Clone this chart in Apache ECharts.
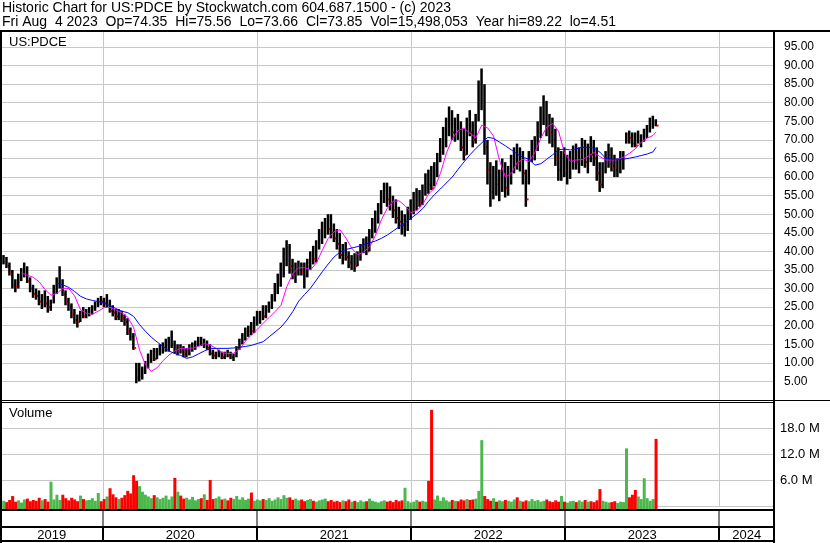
<!DOCTYPE html>
<html><head><meta charset="utf-8">
<script src="https://cdn.jsdelivr.net/npm/echarts@6/dist/echarts.min.js"></script>
<style>html,body{margin:0;padding:0;background:#fff}#c{width:830px;height:543px}</style>
</head><body><div id="c"></div>
<script>
// ---- DATA (weekly bars, week ending Friday, first week ends 2019-05-10) ----
const firstWeekEnd = '2019-05-10';
const weekHigh = [
 39,38.5,37,35,32.5,34,35.5,37,36,33,
 31,30,29.5,28.5,29.5,28,27,31,33,36,
 32.5,29.5,27.5,26,24.5,23,24,25,24.5,25,
 25.5,26.5,27.5,28,27.5,28.5,27,25.5,24.5,24.5,
 24,23,22,19.5,18,10,10,9,10.5,12.5,
 13.5,14,14,15,15.5,16.5,17,18.7,16,15,
 15,14.5,14,15,15.5,16,17,17,16.5,16,
 15,13.5,13,13.5,13,13,13.5,13,12.5,14.5,
 16.5,18,19.5,20,21,22.5,24,24,25.5,25.5,
 26.5,28.5,31.5,34,37,41,43,42,38,37,
 37.5,37,37,38,40,41.5,43,46,48,49,
 50,50,47.5,46,45,42,42.5,40,39,39.5,
 40,42,43.5,44,46,49,51,53,56.5,58.5,
 58.5,57.5,55,54,52,51,50,52,54,56,
 57,56.5,58,61,62,63,64,66.5,70.5,73.5,
 76,79,78,76,77,75,73,76,78,75,
 77,86,89.22,85,70,64,63,64.5,62,65,
 64,63,66,68,69,68,67,62,67,70,
 71,75,79,82,80.5,77,76,73,68,67,
 68,66,67,68.5,69,68,70.5,70,69,71,
 70,68,64,64,67,69,68,66,65,67,
 67,72,72.5,72,72,72.5,71.5,73,74,76,
 76.5,75.56];
const weekLow = [
 36.5,35.5,33.5,30,29,30,32,33,31.5,29,
 27.5,27,25.5,24.5,25,23.5,24,26,28.5,30,
 28,25.5,24,22,20.5,19.5,21,22,22,22.5,
 23,24,25,25.5,25,25,23.5,22.5,21.5,21.5,
 21,20,17.5,16,13.5,4.51,5,5.5,7,8.5,
 10,10.5,11,12,12.5,13,13,14,12.5,12,
 12.5,11.5,11.5,12,13,13.5,14.5,14.5,14,13.5,
 12,11,11,11.5,11,11,11.5,11,10.5,11.5,
 13.5,15,16,17,17.5,18,20,20.5,21.5,22,
 23.5,24.5,26.5,28.5,30.5,33,36,34,32.5,31.5,
 33.5,33.5,30,33,35,36.5,37,40.5,42,43.5,
 44.5,43.5,42.5,40.5,38,36.5,37.5,35.5,35,34.5,
 36,37.5,39.5,39,40,43.5,45,47.5,50,53,
 52,51,49,47.5,46,44.5,44,45.5,48.5,50,
 51,52,52.5,55,55.5,56.5,57.5,60,64,66,
 68,71,70,69.5,70,67,64.5,66,71,68,
 69,75,78,66,58,52,54,55,53.5,56,
 54.5,55,58,61,62,61.5,58,52,58,64,
 64.5,67,70.5,74,71,69,68,63,59,59,
 60,58,59.5,62,62,61,63,62.5,61,64,
 63,59,56,57,61,62.5,61.5,60,60,61,
 62,69,69,68,68,69,68,69.5,70.5,72,
 73,73.66];
const weekClose = [
 37.5,36,34.5,31,30.5,33,34.5,35,32,30,
 28.5,28,26.5,27,26,25,26,30,31.5,32,
 28.5,26.5,25,23,21.5,21,23.5,22.5,23.5,24,
 24.5,26,27,26.5,26,27,24,23.5,22.5,23.5,
 22,21,18.5,17,14,6,7,8,9.5,11,
 12,11,13,13.5,14,14.5,15,15,13.5,14,
 13.5,12.5,13,14,14.5,15.5,16,15,15.5,14,
 12.5,12,12,12.5,11.5,12.5,12,11.5,12,14,
 16,17.5,18,19,18.5,21.5,22,23.5,22.5,25,
 25.5,27.5,30,32,35,38,40,36,34,35.5,
 36,34.5,33.5,37,39,38,42,44,45.5,47,
 46,45,43.5,42,39,40,38.5,37,38,36,
 39,41,42.5,40,45,47,49.5,51,55,56,
 54,53,51,49,48,47,48,50.5,52,53,
 55.5,53,56,59,58,57,60.5,65,68,71,
 74,75,72,74,72.5,68,66,74,72,70,
 76,79,85,68,62,56,60,58,60,62,
 57,60,63,66,64,66,61,54,66,67.5,
 70,73,77,79,73,72,70,65,62,64,
 61,63,65,66,64,66,67,64,67,66,
 65,61,58,62,64,66,63,62,63,65,
 65.5,71,70.5,69,68.5,70,70.5,72,73,74.5,
 75,73.85];
// moving averages read every second week (last point = last week)
const maFast = [
 null,null,null,34.2,33.6,33.0,31.8,29.7,28.2,28.7,
 30.1,30.0,28.0,24.3,23.3,23.1,23.9,24.9,24.9,24.2,
 23.5,22.3,19.5,13.5,9.5,7.7,8.7,10.6,12.1,13.2,
 13.9,13.9,14.0,14.4,15.2,14.8,13.9,12.8,12.5,12.6,
 13.7,15.9,17.5,19.0,20.7,22.2,23.8,25.5,30.5,34.0,
 35.6,35.6,35.0,36.9,40.3,43.5,45.3,45.8,43.6,40.8,
 39.1,39.8,41.2,44.3,48.5,51.6,53.5,53.6,52.3,50.4,
 51.0,52.6,55.5,57.0,61.0,66.4,70.3,72.5,73.2,71.8,
 70.6,74.0,73.2,71.0,64.5,60.0,61.0,63.9,64.8,64.2,
 66.6,70.5,73.5,74.4,72.3,66.5,64.2,64.6,64.7,65.6,
 66.6,65.5,64.6,64.6,64.7,65.4,66.4,67.6,69.4,70.5,
 71.2,72.1];
const maSlow = [
 null,null,null,null,null,null,null,null,null,31.4,
 31.0,30.3,29.2,27.9,27.2,26.8,26.5,26.0,25.4,24.6,
 23.9,23.5,22.5,20.3,18.5,16.9,15.6,14.4,13.2,12.5,
 12.0,11.2,11.6,12.4,13.2,13.8,13.9,13.9,13.9,14.0,
 14.2,14.4,14.7,15.2,15.7,17.0,18.3,19.6,21.5,23.8,
 26.6,28.4,30.1,32.3,34.5,36.6,38.5,39.8,40.5,40.9,
 41.3,41.8,42.3,42.8,43.5,44.4,45.5,46.6,47.7,48.9,
 50.1,51.5,53.5,55.3,56.8,58.4,60.0,62.1,64.1,66.0,
 67.7,69.2,70.7,70.4,69.4,68.4,67.3,66.2,65.3,64.8,
 63.2,63.6,64.8,66.0,67.4,67.5,67.3,67.6,68.0,68.0,
 67.8,66.7,65.0,64.8,64.8,64.8,65.1,65.4,65.8,66.2,
 66.8,68.0];
// volume in millions
const volume = [
 1.2,0.9,1.4,2.3,1.0,1.3,0.8,1.5,1.7,1.1,
 1.4,1.2,1.9,1.3,1.6,1.0,5.6,1.5,2.6,1.4,
 2.6,1.8,1.3,1.9,1.5,1.1,2.4,1.6,1.3,1.4,
 1.8,1.2,3.0,1.1,1.6,2.2,4.1,2.7,2.0,1.6,
 1.9,2.5,3.5,2.9,7.1,5.8,4.6,3.3,2.6,2.2,
 1.8,2.5,2.0,1.6,1.9,2.4,1.5,2.2,6.5,3.3,
 2.4,1.7,1.9,1.5,2.1,1.3,1.6,1.8,2.7,1.4,
 6.0,1.6,1.8,2.2,1.5,1.7,1.3,1.9,1.6,2.3,
 1.5,2.0,1.4,1.7,3.1,1.2,1.5,1.3,1.6,1.4,
 1.8,1.2,1.5,2.0,1.6,2.5,1.9,2.0,1.4,1.7,
 1.3,1.5,1.1,1.4,1.6,1.2,1.0,1.3,1.5,1.7,
 1.1,1.4,1.0,1.2,0.9,1.3,1.1,1.5,1.0,1.2,
 0.9,1.3,1.0,1.1,1.7,1.2,1.0,0.8,1.1,1.3,
 1.0,1.2,0.9,1.4,1.1,1.3,4.2,1.1,0.8,1.0,
 1.4,1.0,1.2,1.0,5.8,22.2,1.5,2.4,1.2,2.0,
 1.3,1.0,1.4,1.2,1.1,1.5,1.3,1.6,1.4,1.5,
 1.7,3.5,15.2,2.3,1.6,1.2,1.8,1.0,1.3,1.1,
 1.4,1.2,1.0,1.5,2.0,1.2,1.0,1.3,1.1,1.6,
 1.2,1.4,1.0,1.2,1.5,1.1,0.9,1.3,1.0,2.3,
 1.0,0.8,1.1,1.2,0.9,1.3,1.0,1.4,1.0,1.1,
 0.9,1.3,3.9,1.2,1.0,0.8,0.9,1.1,0.7,1.0,
 0.9,13.3,2.0,2.6,3.7,2.2,1.6,6.4,1.8,1.2,
 1.6,15.5];
const years = [2019, 2020, 2021, 2022, 2023, 2024];
const priceTicks = {min: 0, max: 99.31, step: 5};
const volTicks = {min: 0, max: 24, step: 6};
const titleLine1 = 'Historic Chart for US:PDCE by Stockwatch.com 604.687.1500 - (c) 2023';
const titleLine2 = 'Fri Aug  4 2023  Op=74.35  Hi=75.56  Lo=73.66  Cl=73.85  Vol=15,498,053  Year hi=89.22  lo=4.51';
const symbolName = 'US:PDCE';

// ---- build ----
const DAY = 86400000;
function decYear(ms){const d=new Date(ms);const y=d.getUTCFullYear();const s=Date.UTC(y,0,1),e=Date.UTC(y+1,0,1);return y+(ms-s)/(e-s);}
const t0 = Date.parse(firstWeekEnd + 'T00:00:00Z');
const weekX = weekClose.map((_, i) => decYear(t0 + i*7*DAY));
const maX = maFast.map((_, k) => weekX[Math.min(2*k, weekX.length-1)]);
const priceData = weekX.map((x,i)=>[x, weekHigh[i], weekLow[i], weekClose[i], i>0 && weekClose[i] < weekClose[i-1] ? 1 : 0]);
const volData = weekX.map((x,i)=>[x, volume[i], i>0 && weekClose[i] < weekClose[i-1] ? 1 : 0]);

const FONT = 'Liberation Sans, Arial, sans-serif';
const XMIN = 2019.342, XMAX = 2024.355;
const chart = echarts.init(document.getElementById('c'), null, {renderer:'canvas'});
const splitStyle = {lineStyle:{color:'#c8c8c8', width:1}};
function xAx(g){return {type:'value', gridIndex:g, min:XMIN, max:XMAX, show:false, splitLine:{show:false}};}
function yearLines(g){
  return {type:'custom', xAxisIndex:g, yAxisIndex:g, data:years.slice(1).map(y=>[y]), encode:{x:0}, z:1, silent:true,
    renderItem:(params, api)=>{
      const cs=params.coordSys; const x=Math.round(api.coord([api.value(0), 0])[0])+0.5;
      return {type:'line', shape:{x1:x, y1:cs.y, x2:x, y2:cs.y+cs.height}, style:{stroke:'#c8c8c8', lineWidth:1}};
    }};
}

chart.setOption({
  animation:false,
  grid:[
    {left:2, width:772, top:31, height:369},
    {left:2, width:772, top:402, height:104},
    {left:2, width:772, top:509, height:33}
  ],
  xAxis:[xAx(0), xAx(1), xAx(2)],
  yAxis:[
    {type:'value', gridIndex:0, position:'right', min:priceTicks.min, max:priceTicks.max, interval:priceTicks.step,
     axisLine:{show:false}, axisTick:{show:false}, splitLine:{show:true, ...splitStyle},
     axisLabel:{margin:10, align:'left', fontFamily:FONT, fontSize:12, color:'#000',
       formatter:v=>(v>0 && v<99 && Math.abs(v/5-Math.round(v/5))<1e-6)? v.toFixed(2):''}},
    {type:'value', gridIndex:1, position:'right', min:volTicks.min, max:volTicks.max, interval:volTicks.step,
     axisLine:{show:false}, axisTick:{show:false}, splitLine:{show:true, ...splitStyle},
     axisLabel:{margin:6, align:'left', fontFamily:FONT, fontSize:13, color:'#000',
       formatter:v=>(v>0 && v<volTicks.max)? v.toFixed(1)+' M':''}},
    {type:'value', gridIndex:2, min:0, max:1, show:false}
  ],
  series:[
    yearLines(0), yearLines(1),
    {type:'custom', xAxisIndex:0, yAxisIndex:0, data:priceData, encode:{x:0, y:[1,2]}, z:2,
     renderItem:(params, api)=>{
       const x=api.value(0);
       const hi=api.coord([x, api.value(1)]), lo=api.coord([x, api.value(2)]), cl=api.coord([x, api.value(3)]);
       const ch=[{type:'rect', shape:{x:hi[0]-1.5, y:hi[1], width:2.5, height:Math.max(1, lo[1]-hi[1])}, style:{fill:'#000'}}];
       if(api.value(4)) ch.push({type:'rect', shape:{x:cl[0]+0.5, y:cl[1]-1, width:2, height:2}, style:{fill:'#ff0000'}});
       return {type:'group', children:ch};
     }},
    {type:'line', xAxisIndex:0, yAxisIndex:0, data:maX.map((x,k)=>[x, maFast[k]]), showSymbol:false, symbol:'none',
     lineStyle:{color:'#ff00ff', width:1}, z:3, connectNulls:false},
    {type:'line', xAxisIndex:0, yAxisIndex:0, data:maX.map((x,k)=>[x, maSlow[k]]), showSymbol:false, symbol:'none',
     lineStyle:{color:'#0000ff', width:1}, z:3, connectNulls:false},
    {type:'custom', xAxisIndex:1, yAxisIndex:1, data:volData, encode:{x:0, y:1}, z:2, clip:false,
     renderItem:(params, api)=>{
       const x=api.value(0), p=api.coord([x, api.value(1)]);
       const bottom=params.coordSys.y+params.coordSys.height+3;
       return {type:'rect', shape:{x:p[0]-1.5, y:p[1], width:3, height:bottom-p[1]}, style:{fill: api.value(2)? '#ff0000':'#4cb84c'}};
     }},
    {type:'custom', xAxisIndex:2, yAxisIndex:2, data:years.map(y=>[y]), encode:{x:0}, z:5, clip:false,
     renderItem:(params, api)=>{
       const cs=params.coordSys; const yr=api.value(0);
       const x0=api.coord([yr,0])[0], x1=api.coord([yr+1,0])[0];
       const l=Math.max(x0,0), r=Math.min(x1, cs.x+cs.width);
       const ch=[{type:'text', style:{text:String(yr), x:(l+r)/2, y:535, align:'center', verticalAlign:'middle', textAlign:'center', textVerticalAlign:'middle', font:'13px '+FONT, fill:'#000'}}];
       if(x0>5){
         ch.push({type:'rect', shape:{x:Math.round(x0)-0.5, y:511, width:1, height:16}, style:{fill:'#000'}});
         ch.push({type:'rect', shape:{x:Math.round(x0)-1, y:528, width:2, height:13}, style:{fill:'#000'}});
       }
       return {type:'group', children:ch};
     }}
  ],
  graphic:{elements:[
    {type:'text', x:2, y:8, z:100, style:{text:titleLine1, font:'14px '+FONT, fill:'#000', verticalAlign:'middle', textVerticalAlign:'middle'}},
    {type:'text', x:2, y:22, z:100, style:{text:titleLine2, font:'14px '+FONT, fill:'#000', verticalAlign:'middle', textVerticalAlign:'middle'}},
    {type:'text', x:9, y:42, z:100, style:{text:symbolName, font:'13px '+FONT, fill:'#000', verticalAlign:'middle', textVerticalAlign:'middle'}},
    {type:'text', x:9, y:413, z:100, style:{text:'Volume', font:'13px '+FONT, fill:'#000', verticalAlign:'middle', textVerticalAlign:'middle'}},
    {type:'rect', z:100, shape:{x:0, y:30, width:830, height:2}, style:{fill:'#000'}},
    {type:'rect', z:100, shape:{x:0, y:30, width:2, height:513}, style:{fill:'#000'}},
    {type:'rect', z:100, shape:{x:773, y:30, width:2, height:513}, style:{fill:'#000'}},
    {type:'rect', z:100, shape:{x:0, y:400, width:830, height:1}, style:{fill:'#000'}},
    {type:'rect', z:100, shape:{x:0, y:402, width:775, height:1}, style:{fill:'#000'}},
    {type:'rect', z:100, shape:{x:0, y:509, width:775, height:2}, style:{fill:'#000'}},
    {type:'rect', z:100, shape:{x:0, y:526, width:775, height:2}, style:{fill:'#000'}},
    {type:'rect', z:100, shape:{x:0, y:540, width:775, height:2}, style:{fill:'#000'}}
  ]}
});
</script></body></html>
